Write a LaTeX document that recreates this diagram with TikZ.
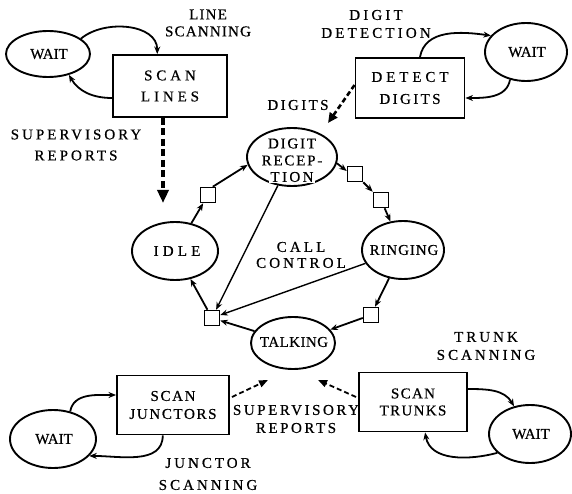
\documentclass[tikz,border=0pt]{standalone}
\usepackage{fontspec}
\setmainfont{Liberation Serif}[FakeBold=0.6]
\usetikzlibrary{shapes.geometric,arrows.meta,calc}

% letter-spaced 15pt type: #1 = spacing in percent, #2 = baseline skip
\newcommand\lsp[2]{\fontsize{15}{#2}\selectfont\addfontfeatures{LetterSpace=#1}}

\tikzset{
  st/.style={draw, ellipse, line width=1.9pt, inner sep=0pt},
  box/.style={draw, rectangle, line width=1.9pt, inner sep=0pt, align=center},
  sq/.style={draw, rectangle, line width=1.5pt, minimum size=15pt, inner sep=0pt},
  txt/.style={align=center, inner sep=0pt},
  flow/.style={line width=1.8pt, -{Stealth[length=7.5pt,width=6pt]}},
  thinflow/.style={line width=1.4pt, -{Stealth[length=7.5pt,width=6pt]}},
  bigdash/.style={line width=3.8pt, dash pattern=on 7pt off 3.5pt,
    -{Triangle[length=13pt,width=11pt]}},
  middash/.style={line width=2.6pt, dash pattern=on 5pt off 3pt,
    -{Triangle[length=10pt,width=9pt]}},
  smalldash/.style={line width=1.8pt, dash pattern=on 5pt off 3pt,
    -{Triangle[length=9pt,width=7pt]}},
}

\begin{document}
\begin{tikzpicture}[x=1pt,y=1pt]
\useasboundingbox (0,0) rectangle (572,-494);

% ---- call control states ----
\node[st, minimum width=90pt, minimum height=58pt] (digit) at (292,-157) {};
\node[st, minimum width=86pt, minimum height=58pt] (idle) at (175,-251) {};
\node[st, minimum width=82pt, minimum height=58pt] (ringing) at (403,-250) {};
\node[st, minimum width=84pt, minimum height=52pt] (talking) at (293,-343) {};

\node[txt, font=\lsp{12}{17}] (digit-t) at (292,-152) {DIGIT\\RECEP-};
\node[txt, font=\lsp{16}{17}, fill=white, inner sep=1pt] (digit-b) at (292,-177) {TION};
\node[txt, font=\lsp{28}{17}] (idle-t) at (177,-251) {IDLE};
\node[txt, font=\lsp{6}{17}] (ringing-t) at (404,-250) {RINGING};
\node[txt, font=\lsp{3}{17}] (talking-t) at (294,-342) {TALKING};

% transition squares
\node[sq] (s1) at (208,-195) {};
\node[sq] (s2) at (355,-174) {};
\node[sq] (s3) at (381,-200) {};
\node[sq] (s4) at (371,-315) {};
\node[sq] (s5) at (212,-318) {};

\node[txt, font=\lsp{21}{16}] (cc) at (301,-255) {CALL\\CONTROL};

% ---- state transitions ----
\draw[flow] (idle) -- (s1);
\draw[flow] (s1.60) -- (digit.190);
\draw[flow] (digit.-8) -- (s2.160);
\draw[flow] (s2) -- (s3);
\draw[flow] (s3) -- (ringing);
\draw[flow] (ringing) -- (s4);
\draw[flow] (s4) -- (talking);
\draw[flow] (talking) -- (s5);
\draw[flow] (s5) -- (idle);
\draw[thinflow] (digit) -- (s5);
\draw[thinflow] (ringing) -- (s5);

% ---- line scanning ----
\node[box, minimum width=114pt, minimum height=62pt, font=\lsp{26}{21}] (scanL) at (170,-86) {SCAN\\LINES};
\node[st, minimum width=84pt, minimum height=46pt] (waitTL) at (48,-54) {};
\node[txt, font=\lsp{0}{17}] (waitTL-t) at (49,-54) {WAIT};
\node[txt, font=\lsp{8}{17}] (lscan) at (208,-23) {LINE\\SCANNING};
\node[txt, font=\lsp{20}{21}] (supTL) at (76,-145) {SUPERVISORY\\REPORTS};
\draw[flow] (waitTL.25) to[out=40,in=90] ($(scanL.north west)!0.39!(scanL.north east)$);
\draw[flow] ($(scanL.west)+(0,-12)$) to[out=180,in=-60] (waitTL.-45);
\coordinate (supA) at (163,-203);
\draw[bigdash] ($(scanL.south)+(-7,0)$) -- (supA);

% ---- digit detection ----
\node[box, minimum width=109pt, minimum height=60pt, font=\lsp{26}{22}] (detect) at (410,-88) {DETECT\\\addfontfeatures{LetterSpace=16}DIGITS};
\node[st, minimum width=82pt, minimum height=58pt] (waitTR) at (526,-52) {};
\node[txt, font=\lsp{0}{17}] (waitTR-t) at (527,-52) {WAIT};
\node[txt, font=\lsp{21}{18}] (ddet) at (376,-24) {DIGIT\\DETECTION};
\node[txt, font=\lsp{16}{17}] (digs) at (298,-105) {DIGITS};
\draw[flow] ($(detect.north west)!0.59!(detect.north east)$) to[out=80,in=172] (waitTR.155);
\draw[flow] (waitTR.240) to[out=-100,in=0] ($(detect.east)+(0,-10)$);
\coordinate (digA) at (328,-123);
\draw[middash] ($(detect.west)+(0,3)$) -- (digA);

% ---- junctor scanning ----
\node[box, minimum width=112pt, minimum height=59pt, font=\lsp{11}{18}] (junct) at (173,-405) {SCAN\\JUNCTORS};
\node[st, minimum width=86pt, minimum height=58pt] (waitBL) at (53,-439) {};
\node[txt, font=\lsp{0}{17}] (waitBL-t) at (54,-439) {WAIT};
\node[txt, font=\lsp{20}{22}] (jscan) at (208,-474) {JUNCTOR\\SCANNING};
\draw[flow] (waitBL.58) to[out=80,in=180] ($(junct.west)+(0,10)$);
\draw[flow] ($(junct.south west)!0.41!(junct.south east)$) to[out=-90,in=0] (waitBL.-25);
\coordinate (talkA) at (268,-380);
\draw[smalldash] ($(junct.east)+(2,8)$) -- (talkA);

% ---- trunk scanning ----
\node[box, minimum width=108pt, minimum height=59pt, font=\lsp{9}{17}] (trunks) at (413,-402) {SCAN\\TRUNKS};
\node[st, minimum width=82pt, minimum height=58pt] (waitBR) at (530,-434) {};
\node[txt, font=\lsp{0}{17}] (waitBR-t) at (531,-434) {WAIT};
\node[txt, font=\lsp{20}{18}] (tscan) at (486,-346) {TRUNK\\SCANNING};
\draw[flow] ($(trunks.east)+(0,13)$) to[out=0,in=120] (waitBR.120);
\draw[flow] (waitBR.210) to[out=195,in=-80] ($(trunks.south west)!0.61!(trunks.south east)$);
\coordinate (talkB) at (318,-380);
\draw[smalldash] ($(trunks.west)+(-2,5)$) -- (talkB);

\node[txt, font=\lsp{17}{18}] (supB) at (296,-419) {SUPERVISORY\\REPORTS};
\end{tikzpicture}
\end{document}
